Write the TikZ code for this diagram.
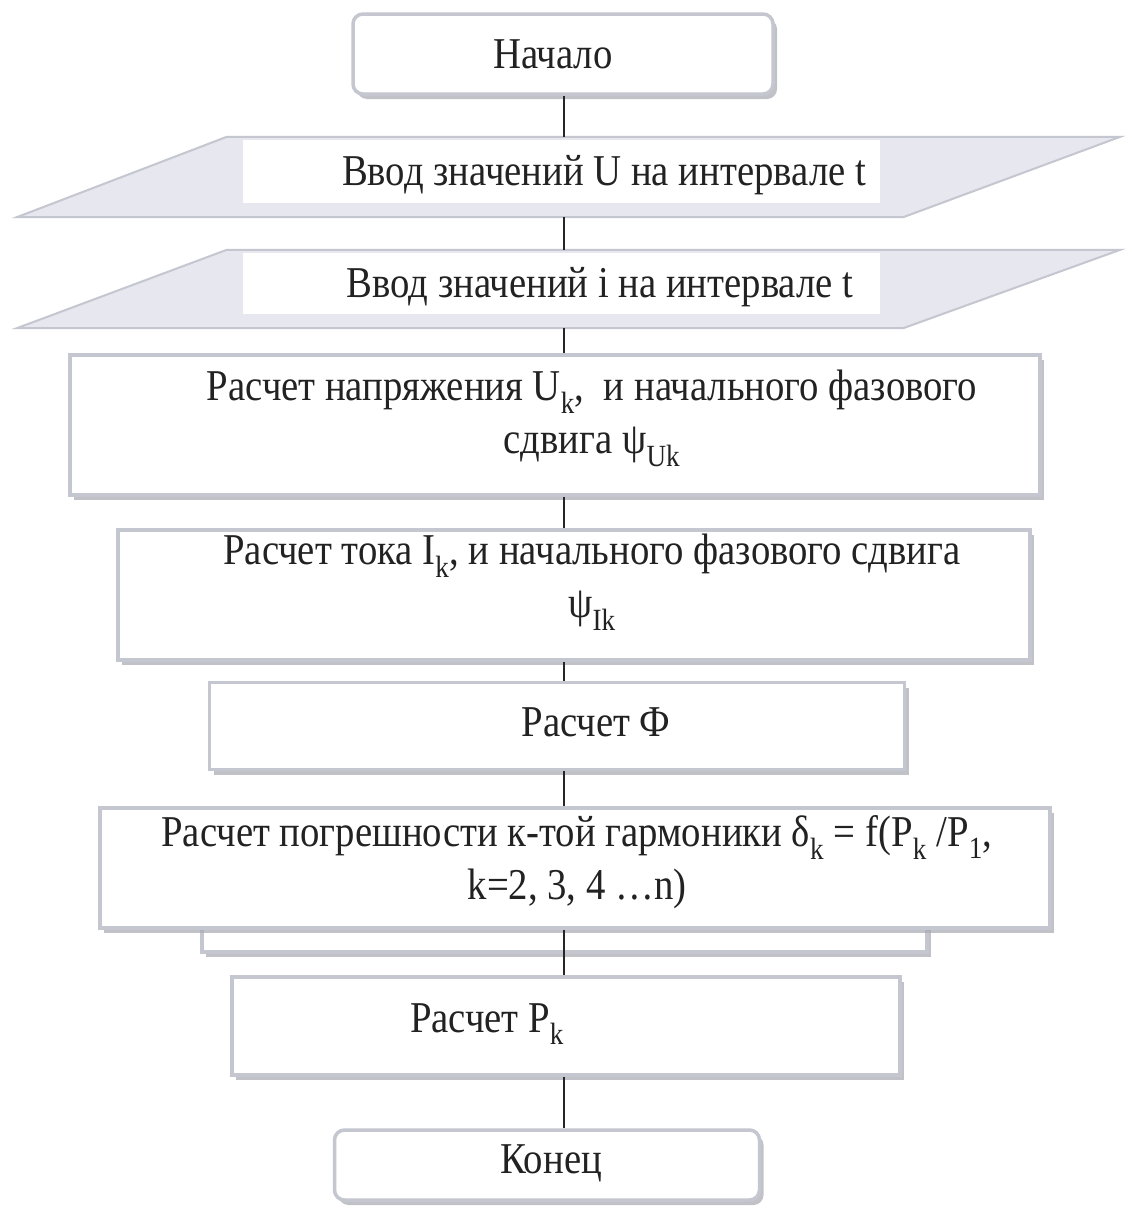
\documentclass[tikz,border=0pt]{standalone}
\usepackage{fontspec}
\setmainfont[FakeStretch=0.88]{Liberation Serif}
\usetikzlibrary{shadows,calc}
\definecolor{txt}{HTML}{222222}
\definecolor{frame}{HTML}{C4C6D0}
\definecolor{shade}{HTML}{A8A9B2}
\definecolor{parafill}{HTML}{E6E7EF}
\begin{document}
\begin{tikzpicture}[x=1pt,y=-1pt,
  every node/.style={text=txt, font=\fontsize{44}{53}\selectfont},
  box/.style={draw=frame, line width=3.5pt, fill=white, inner sep=0pt,
    drop shadow={shadow xshift=4pt, shadow yshift=-5pt, fill=shade, opacity=0.7}},
  rbox/.style={box, rounded corners=10pt},
  lbl/.style={align=center, inner sep=0pt},
  conn/.style={draw=black!85, line width=1.6pt},
  ghost/.style={inner sep=0pt, draw=none}
]
\useasboundingbox (0,0) rectangle (1132,1229);
\fill[white] (0,0) rectangle (1132,1229);
\coordinate (spine) at (564,0);

% start
\node[rbox, minimum width=420pt, minimum height=80pt] (start) at (563,54) {};
\node[lbl] (startt) at (553,54) {Начало};

% input 1 (parallelogram)
\node[ghost, minimum width=1103pt, minimum height=80pt] (in1) at (568.5,177) {};
\fill[shade, opacity=.6, xshift=4pt, yshift=-4pt] (in1.south west) -- ($(in1.north west)+(210,0)$) -- (in1.north east) -- ($(in1.south east)+(-217,0)$) -- cycle;
\filldraw[fill=parafill, draw=frame, line width=2pt] (in1.south west) -- ($(in1.north west)+(210,0)$) -- (in1.north east) -- ($(in1.south east)+(-217,0)$) -- cycle;
\fill[white] ($(in1.north west)+(226,3)$) rectangle ($(in1.south east)+(-240,-14)$);
\node[lbl] (in1t) at (604,175) {Ввод значений U на интервале t};

% input 2 (parallelogram)
\node[ghost, minimum width=1103pt, minimum height=78pt] (in2) at (568.5,289) {};
\fill[shade, opacity=.6, xshift=4pt, yshift=-4pt] (in2.south west) -- ($(in2.north west)+(210,0)$) -- (in2.north east) -- ($(in2.south east)+(-217,0)$) -- cycle;
\filldraw[fill=parafill, draw=frame, line width=2pt] (in2.south west) -- ($(in2.north west)+(210,0)$) -- (in2.north east) -- ($(in2.south east)+(-217,0)$) -- cycle;
\fill[white] ($(in2.north west)+(226,3)$) rectangle ($(in2.south east)+(-240,-14)$);
\node[lbl] (in2t) at (600,287) {Ввод значений і на интервале t};

% box 3
\node[box, minimum width=970pt, minimum height=140pt] (b3) at (555,425) {};
\node[lbl] (b3t) at (592,418) {Расчет напряжения U\textsubscript{k},\ \ и начального фазового\\ сдвига ψ\textsubscript{Uk}};

% box 4
\node[box, minimum width=912pt, minimum height=130pt] (b4) at (574,595) {};
\node[lbl] (b4t) at (592,582) {Расчет тока I\textsubscript{k}, и начального фазового сдвига\\ ψ\textsubscript{Ik}};

% box 5
\node[box, minimum width=695pt, minimum height=87pt] (b5) at (557,726) {};
\node[lbl] (b5t) at (596,722) {Расчет Ф};

% box 6 with back plate
\node[box, minimum width=725pt, minimum height=60pt] (b6back) at (564.5,922) {};
\node[box, minimum width=950pt, minimum height=120pt] (b6) at (575,868) {};
\node[lbl] (b6t) at (577,862) {Расчет погрешности к-той гармоники δ\textsubscript{k} = f(P\textsubscript{k} /P\textsubscript{1},\\ k=2, 3, 4 …n)};

% box 7
\node[box, minimum width=668pt, minimum height=98pt] (b7) at (566,1026) {};
\node[lbl] (b7t) at (487,1024) {Расчет P\textsubscript{k}};

% end
\node[rbox, minimum width=425pt, minimum height=70pt] (end) at (547,1165) {};
\node[lbl] (endt) at (551,1163) {Конец};

% connectors
\draw[conn] (start.south -| spine) -- (in1.north -| spine);
\draw[conn] (in1.south -| spine) -- (in2.north -| spine);
\draw[conn] (in2.south -| spine) -- (b3.north -| spine);
\draw[conn] (b3.south -| spine) -- (b4.north -| spine);
\draw[conn] (b4.south -| spine) -- (b5.north -| spine);
\draw[conn] (b5.south -| spine) -- (b6.north -| spine);
\draw[conn] (b6.south -| spine) -- (b7.north -| spine);
\draw[conn] (b7.south -| spine) -- (end.north -| spine);
\end{tikzpicture}
\end{document}
